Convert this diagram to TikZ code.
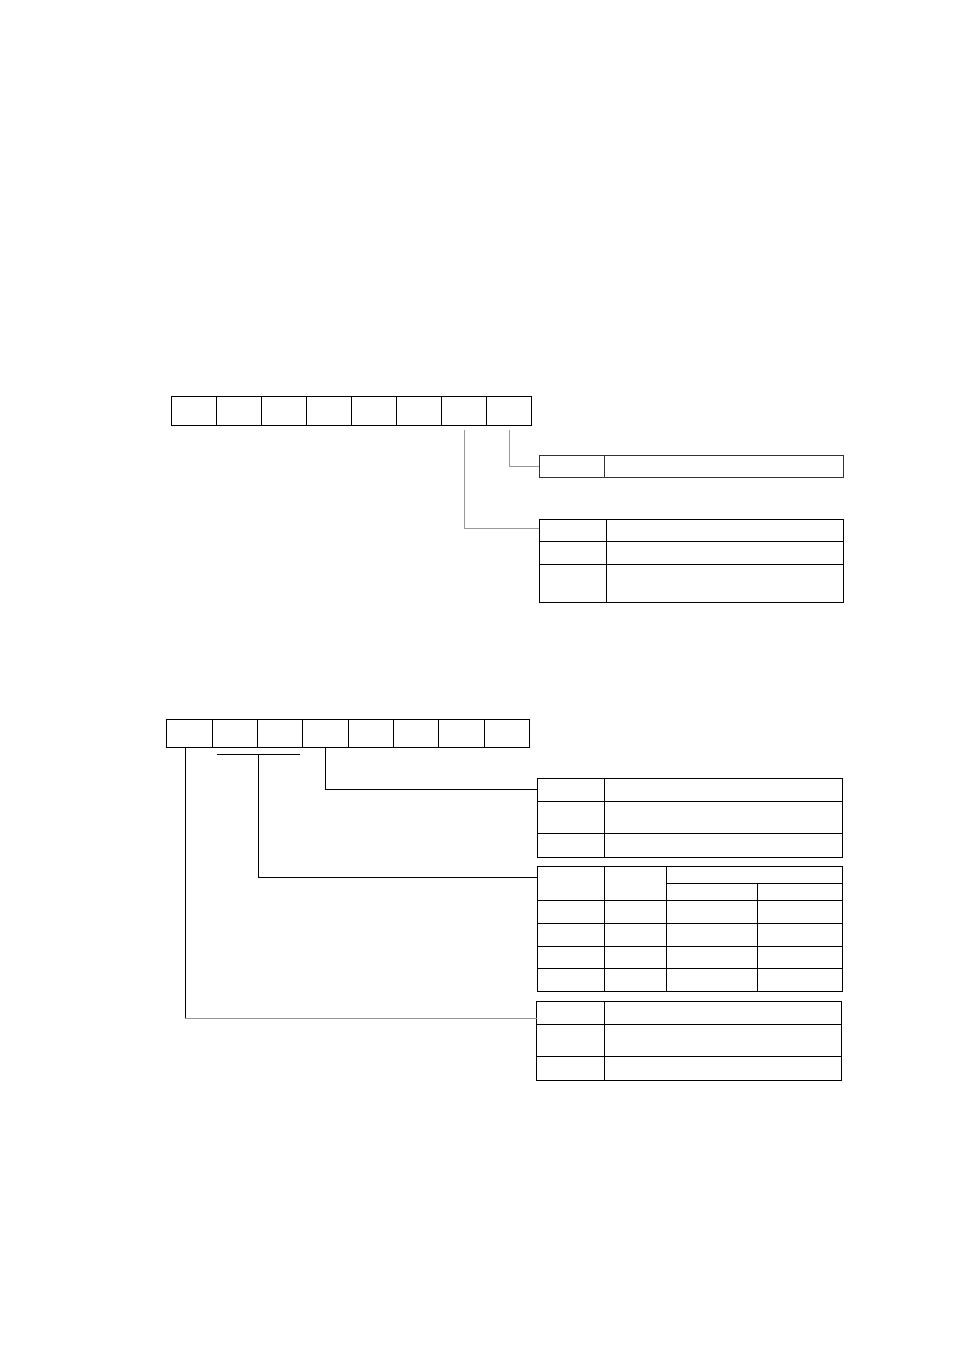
\documentclass[tikz,border=0pt]{standalone}
\begin{document}
\begin{tikzpicture}[x=1pt,y=-1pt,line width=0.9pt,
  cell/.style={draw,minimum width=45pt,minimum height=28pt,inner sep=0pt,outer sep=0pt,anchor=north west},
  tbl/.style={draw,inner sep=0pt,outer sep=0pt,anchor=north west},
  link/.style={line width=0.8pt},
  faint/.style={link,black!40}]
\useasboundingbox (0,0) rectangle (954,1351);
% upper register
\foreach \i in {1,...,8}
  \node[cell,minimum height=28.3pt] (a\i) at ({171.7+45*(\i-1)},396.7) {};
% lower register
\foreach \i in {1,...,8}
  \node[cell,minimum width=45.3pt] (b\i) at ({166.7+45.33*(\i-1)},719.3) {};
% tables
\node[tbl,draw=black!80,minimum width=304pt,minimum height=22pt] (t1) at (539,455) {};
\draw[black!80] (604,455) -- (604,477);
\node[tbl,minimum width=304pt,minimum height=83.7pt] (t2) at (539.3,519) {};
\draw (606.7,519) -- (606.7,602.7);
\draw (539.3,541) -- (843.3,541);
\draw (539.3,564.3) -- (843.3,564.3);
\node[tbl,minimum width=305pt,minimum height=79pt] (t3) at (537.3,778.3) {};
\draw (604.3,778.3) -- (604.3,857.3);
\draw (537.3,801.7) -- (842.3,801.7);
\draw (537.3,833.3) -- (842.3,833.3);
\node[tbl,minimum width=305pt,minimum height=124.3pt] (t4) at (537.3,866.7) {};
\draw (604.3,866.7) -- (604.3,991);
\draw (666.7,866.7) -- (666.7,991);
\draw (757.3,883.3) -- (757.3,991);
\draw (666.7,883.3) -- (842.3,883.3);
\foreach \y in {900.3,923.3,946.3,968.7}
  \draw (537.3,\y) -- (842.3,\y);
\node[tbl,minimum width=304.6pt,minimum height=78.7pt] (t5) at (536.7,1001.3) {};
\draw (604.3,1001.3) -- (604.3,1080);
\draw (536.7,1024.3) -- (841.3,1024.3);
\draw (536.7,1056.3) -- (841.3,1056.3);
% connectors, upper register
\draw[faint] ([yshift=-5pt]a8.south) |- (t1.west);
\draw[faint] ([yshift=-5pt]a7.south) |- ([yshift=-9pt]t2.north west);
% connectors, lower register
\coordinate (barL) at (217.3,754);
\coordinate (barR) at (300,754);
\coordinate (barM) at (258.3,754);
\draw[link] (barL) -- (barR);
\draw[link] (b4.south) |- ([yshift=-11pt]t3.north west);
\draw[link] (barM) |- ([yshift=-11pt]t4.north west);
\coordinate (q5) at ([yshift=-17pt]t5.north west);
\coordinate (p1) at ([xshift=-4.3pt]b1.south);
\draw[link] (p1) -- (p1 |- q5);
\draw[faint] (p1 |- q5) -- (q5);
\end{tikzpicture}
\end{document}
